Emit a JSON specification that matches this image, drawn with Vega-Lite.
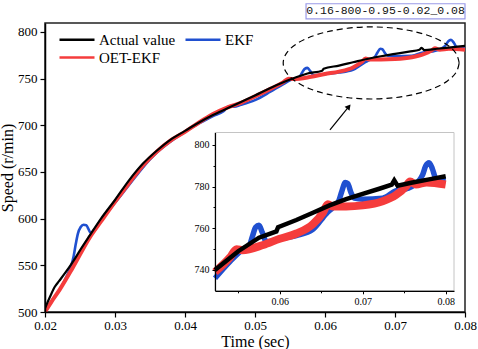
{
  "$schema": "https://vega.github.io/schema/vega-lite/v6.json",
  "width": 420,
  "height": 289,
  "autosize": "none",
  "padding": {"left": 45, "top": 23, "right": 13, "bottom": 37},
  "background": "white",
  "config": {
    "view": {"stroke": "#222222", "strokeWidth": 1.5},
    "font": "Liberation Serif"
  },
  "datasets": {
    "d": [
      {"s": "Actual value", "t": 0.0200, "v": 504},
      {"s": "Actual value", "t": 0.0207, "v": 516},
      {"s": "Actual value", "t": 0.0214, "v": 527},
      {"s": "Actual value", "t": 0.0220, "v": 533},
      {"s": "Actual value", "t": 0.0228, "v": 541},
      {"s": "Actual value", "t": 0.0240, "v": 554},
      {"s": "Actual value", "t": 0.0250, "v": 566},
      {"s": "Actual value", "t": 0.0264, "v": 582},
      {"s": "Actual value", "t": 0.0280, "v": 600},
      {"s": "Actual value", "t": 0.0300, "v": 620},
      {"s": "Actual value", "t": 0.0320, "v": 641},
      {"s": "Actual value", "t": 0.0340, "v": 659},
      {"s": "Actual value", "t": 0.0360, "v": 673},
      {"s": "Actual value", "t": 0.0380, "v": 685},
      {"s": "Actual value", "t": 0.0400, "v": 694},
      {"s": "Actual value", "t": 0.0420, "v": 703},
      {"s": "Actual value", "t": 0.0440, "v": 711},
      {"s": "Actual value", "t": 0.0460, "v": 718},
      {"s": "Actual value", "t": 0.0480, "v": 725},
      {"s": "Actual value", "t": 0.0500, "v": 732},
      {"s": "Actual value", "t": 0.0522, "v": 740},
      {"s": "Actual value", "t": 0.0550, "v": 749},
      {"s": "Actual value", "t": 0.0575, "v": 755.5},
      {"s": "Actual value", "t": 0.0596, "v": 758.5},
      {"s": "Actual value", "t": 0.0598, "v": 760.5},
      {"s": "Actual value", "t": 0.0620, "v": 764},
      {"s": "Actual value", "t": 0.0640, "v": 767.5},
      {"s": "Actual value", "t": 0.0660, "v": 771},
      {"s": "Actual value", "t": 0.0680, "v": 774},
      {"s": "Actual value", "t": 0.0700, "v": 776.5},
      {"s": "Actual value", "t": 0.0720, "v": 779},
      {"s": "Actual value", "t": 0.0735, "v": 781},
      {"s": "Actual value", "t": 0.0738, "v": 783},
      {"s": "Actual value", "t": 0.0742, "v": 780.5},
      {"s": "Actual value", "t": 0.0760, "v": 782},
      {"s": "Actual value", "t": 0.0780, "v": 783.5},
      {"s": "Actual value", "t": 0.0800, "v": 785},

      {"s": "EKF", "t": 0.0200, "v": 500},
      {"s": "EKF", "t": 0.0210, "v": 512},
      {"s": "EKF", "t": 0.0221, "v": 524},
      {"s": "EKF", "t": 0.0232, "v": 540},
      {"s": "EKF", "t": 0.0238, "v": 551},
      {"s": "EKF", "t": 0.0241, "v": 560},
      {"s": "EKF", "t": 0.0244, "v": 573},
      {"s": "EKF", "t": 0.0247, "v": 584},
      {"s": "EKF", "t": 0.0251, "v": 591},
      {"s": "EKF", "t": 0.0255, "v": 593.5},
      {"s": "EKF", "t": 0.0259, "v": 593},
      {"s": "EKF", "t": 0.0262, "v": 589},
      {"s": "EKF", "t": 0.0265, "v": 585},
      {"s": "EKF", "t": 0.0270, "v": 587},
      {"s": "EKF", "t": 0.0280, "v": 598},
      {"s": "EKF", "t": 0.0300, "v": 617},
      {"s": "EKF", "t": 0.0320, "v": 636},
      {"s": "EKF", "t": 0.0340, "v": 655},
      {"s": "EKF", "t": 0.0360, "v": 671},
      {"s": "EKF", "t": 0.0380, "v": 683},
      {"s": "EKF", "t": 0.0400, "v": 693},
      {"s": "EKF", "t": 0.0420, "v": 702},
      {"s": "EKF", "t": 0.0440, "v": 710},
      {"s": "EKF", "t": 0.0455, "v": 715},
      {"s": "EKF", "t": 0.0462, "v": 720},
      {"s": "EKF", "t": 0.0470, "v": 720},
      {"s": "EKF", "t": 0.0480, "v": 722},
      {"s": "EKF", "t": 0.0500, "v": 727},
      {"s": "EKF", "t": 0.0522, "v": 736},
      {"s": "EKF", "t": 0.0540, "v": 744},
      {"s": "EKF", "t": 0.0556, "v": 750},
      {"s": "EKF", "t": 0.0563, "v": 751.5},
      {"s": "EKF", "t": 0.0567, "v": 756},
      {"s": "EKF", "t": 0.0571, "v": 760.5},
      {"s": "EKF", "t": 0.0575, "v": 761.5},
      {"s": "EKF", "t": 0.0579, "v": 758},
      {"s": "EKF", "t": 0.0584, "v": 753.5},
      {"s": "EKF", "t": 0.0600, "v": 755},
      {"s": "EKF", "t": 0.0620, "v": 756.5},
      {"s": "EKF", "t": 0.0640, "v": 759.5},
      {"s": "EKF", "t": 0.0656, "v": 767},
      {"s": "EKF", "t": 0.0664, "v": 770},
      {"s": "EKF", "t": 0.0671, "v": 773},
      {"s": "EKF", "t": 0.0675, "v": 778},
      {"s": "EKF", "t": 0.0679, "v": 782},
      {"s": "EKF", "t": 0.0682, "v": 781.5},
      {"s": "EKF", "t": 0.0686, "v": 777},
      {"s": "EKF", "t": 0.0690, "v": 774.5},
      {"s": "EKF", "t": 0.0700, "v": 774},
      {"s": "EKF", "t": 0.0724, "v": 774.5},
      {"s": "EKF", "t": 0.0740, "v": 778},
      {"s": "EKF", "t": 0.0753, "v": 779},
      {"s": "EKF", "t": 0.0766, "v": 782},
      {"s": "EKF", "t": 0.0772, "v": 785.5},
      {"s": "EKF", "t": 0.0776, "v": 790},
      {"s": "EKF", "t": 0.0780, "v": 791.5},
      {"s": "EKF", "t": 0.0784, "v": 788.5},
      {"s": "EKF", "t": 0.0788, "v": 784},
      {"s": "EKF", "t": 0.0800, "v": 783},

      {"s": "OET-EKF", "t": 0.0200, "v": 500},
      {"s": "OET-EKF", "t": 0.0210, "v": 512},
      {"s": "OET-EKF", "t": 0.0221, "v": 524},
      {"s": "OET-EKF", "t": 0.0240, "v": 548},
      {"s": "OET-EKF", "t": 0.0264, "v": 580},
      {"s": "OET-EKF", "t": 0.0280, "v": 597},
      {"s": "OET-EKF", "t": 0.0300, "v": 618},
      {"s": "OET-EKF", "t": 0.0320, "v": 638},
      {"s": "OET-EKF", "t": 0.0340, "v": 657},
      {"s": "OET-EKF", "t": 0.0360, "v": 672},
      {"s": "OET-EKF", "t": 0.0380, "v": 684},
      {"s": "OET-EKF", "t": 0.0400, "v": 693},
      {"s": "OET-EKF", "t": 0.0420, "v": 703},
      {"s": "OET-EKF", "t": 0.0440, "v": 712},
      {"s": "OET-EKF", "t": 0.0460, "v": 719},
      {"s": "OET-EKF", "t": 0.0480, "v": 724},
      {"s": "OET-EKF", "t": 0.0500, "v": 731},
      {"s": "OET-EKF", "t": 0.0522, "v": 739},
      {"s": "OET-EKF", "t": 0.0540, "v": 746},
      {"s": "OET-EKF", "t": 0.0548, "v": 750},
      {"s": "OET-EKF", "t": 0.0555, "v": 749.5},
      {"s": "OET-EKF", "t": 0.0580, "v": 752},
      {"s": "OET-EKF", "t": 0.0600, "v": 755},
      {"s": "OET-EKF", "t": 0.0620, "v": 757.5},
      {"s": "OET-EKF", "t": 0.0640, "v": 762},
      {"s": "OET-EKF", "t": 0.0652, "v": 767.5},
      {"s": "OET-EKF", "t": 0.0658, "v": 771.5},
      {"s": "OET-EKF", "t": 0.0664, "v": 770.5},
      {"s": "OET-EKF", "t": 0.0680, "v": 770.5},
      {"s": "OET-EKF", "t": 0.0700, "v": 771},
      {"s": "OET-EKF", "t": 0.0724, "v": 773},
      {"s": "OET-EKF", "t": 0.0740, "v": 776},
      {"s": "OET-EKF", "t": 0.0752, "v": 780},
      {"s": "OET-EKF", "t": 0.0757, "v": 782.5},
      {"s": "OET-EKF", "t": 0.0764, "v": 781},
      {"s": "OET-EKF", "t": 0.0777, "v": 782},
      {"s": "OET-EKF", "t": 0.0800, "v": 781}
    ],
    "ellipse": [
      {"i": 0, "t": 0.07917, "v": 766.8},
      {"i": 1, "t": 0.07874, "v": 776.8},
      {"i": 2, "t": 0.07749, "v": 786.1},
      {"i": 3, "t": 0.07549, "v": 794.1},
      {"i": 4, "t": 0.07289, "v": 800.2},
      {"i": 5, "t": 0.06985, "v": 804.1},
      {"i": 6, "t": 0.0666, "v": 805.4},
      {"i": 7, "t": 0.06335, "v": 804.1},
      {"i": 8, "t": 0.06032, "v": 800.2},
      {"i": 9, "t": 0.05771, "v": 794.1},
      {"i": 10, "t": 0.05571, "v": 786.1},
      {"i": 11, "t": 0.05446, "v": 776.8},
      {"i": 12, "t": 0.05403, "v": 766.8},
      {"i": 13, "t": 0.05446, "v": 756.8},
      {"i": 14, "t": 0.05571, "v": 747.5},
      {"i": 15, "t": 0.05771, "v": 739.5},
      {"i": 16, "t": 0.06032, "v": 733.4},
      {"i": 17, "t": 0.06335, "v": 729.5},
      {"i": 18, "t": 0.0666, "v": 728.2},
      {"i": 19, "t": 0.06985, "v": 729.5},
      {"i": 20, "t": 0.07289, "v": 733.4},
      {"i": 21, "t": 0.07549, "v": 739.5},
      {"i": 22, "t": 0.07749, "v": 747.5},
      {"i": 23, "t": 0.07874, "v": 756.8},
      {"i": 24, "t": 0.07917, "v": 766.8}
    ],
    "arrow": [{"t": 0.06071, "v": 695, "t2": 0.0634, "v2": 720}],
    "arrowhead": [{"t": 0.0634, "v": 720}],
    "box": [{"t": 0.05729, "v": 814, "t2": 0.0800, "v2": 830.2, "label": "0.16-800-0.95-0.02_0.08", "tc": 0.06865, "vc": 822}],
    "inset": [{"t": 0.0522, "t2": 0.081, "v": 730, "v2": 806}]
  },
  "layer": [
    {
      "layer": [
        {
          "data": {"name": "d"},
          "transform": [{"filter": "datum.s == 'EKF'"}],
          "mark": {"type": "line", "strokeWidth": 2.6, "clip": true, "interpolate": "monotone", "strokeJoin": "round"},
          "encoding": {
            "x": {"field": "t", "type": "quantitative", "scale": {"domain": [0.02, 0.08], "nice": false, "zero": false},
              "axis": {"title": "Time (sec)", "values": [0.02, 0.025, 0.03, 0.035, 0.04, 0.045, 0.05, 0.055, 0.06, 0.065, 0.07, 0.075, 0.08],
                "labelExpr": "round(datum.value*1000) % 10 == 0 ? format(datum.value, '.2f') : ''",
                "tickSize": {"condition": {"test": "round(datum.value*1000) % 10 != 0", "value": 3}, "value": 5},
                "orient": "bottom", "grid": false, "domainColor": "black", "domainWidth": 1.5, "tickColor": "black", "tickWidth": 1.2,
                "labelFont": "Liberation Serif", "labelFontSize": 13, "labelColor": "black", "labelPadding": 2, "labelFlush": false, "labelOverlap": false,
                "titleFont": "Liberation Serif", "titleFontSize": 16, "titleFontWeight": "normal", "titleColor": "black", "titlePadding": 1, "zindex": 1}},
            "y": {"field": "v", "type": "quantitative", "scale": {"domain": [500, 809.6], "nice": false, "zero": false},
              "axis": {"title": "Speed (r/min)", "values": [500, 525, 550, 575, 600, 625, 650, 675, 700, 725, 750, 775, 800],
                "labelExpr": "datum.value % 50 == 0 ? datum.value : ''",
                "tickSize": {"condition": {"test": "datum.value % 50 != 0", "value": 3}, "value": 5},
                "orient": "left", "grid": false, "domainColor": "black", "domainWidth": 1.5, "tickColor": "black", "tickWidth": 1.2,
                "labelFont": "Liberation Serif", "labelFontSize": 13, "labelColor": "black", "labelPadding": 3, "labelOverlap": false,
                "titleFont": "Liberation Serif", "titleFontSize": 16, "titleFontWeight": "normal", "titleColor": "black", "titlePadding": 2, "zindex": 1}},
            "color": {"field": "s", "type": "nominal",
              "scale": {"domain": ["Actual value", "EKF", "OET-EKF"], "range": ["#000000", "#2050d0", "#f53c3c"]},
              "legend": {"title": null, "orient": "none", "legendX": 13, "legendY": 8, "direction": "horizontal", "columns": 2,
                "symbolType": "M-2.5,0H2.5", "symbolSize": 196, "symbolOffset": 10.5,
                "symbolStrokeWidth": 2.5, "labelFont": "Liberation Serif", "labelFontSize": 15, "labelColor": "black", "labelOffset": 13.5,
                "columnPadding": 4, "rowPadding": 1, "padding": 0, "labelLimit": 300}}
          }
        },
        {
          "data": {"name": "d"},
          "transform": [{"filter": "datum.s == 'OET-EKF'"}],
          "mark": {"type": "line", "strokeWidth": 4, "clip": true, "interpolate": "monotone", "strokeJoin": "round"},
          "encoding": {
            "x": {"field": "t", "type": "quantitative", "scale": {"domain": [0.02, 0.08], "nice": false, "zero": false}},
            "y": {"field": "v", "type": "quantitative", "scale": {"domain": [500, 809.6], "nice": false, "zero": false}},
            "color": {"field": "s", "type": "nominal"}
          }
        },
        {
          "data": {"name": "d"},
          "transform": [{"filter": "datum.s == 'Actual value'"}],
          "mark": {"type": "line", "strokeWidth": 2.2, "clip": true, "interpolate": "monotone"},
          "encoding": {
            "x": {"field": "t", "type": "quantitative", "scale": {"domain": [0.02, 0.08], "nice": false, "zero": false}},
            "y": {"field": "v", "type": "quantitative", "scale": {"domain": [500, 809.6], "nice": false, "zero": false}},
            "color": {"field": "s", "type": "nominal"}
          }
        },
        {
          "data": {"name": "ellipse"},
          "mark": {"type": "line", "color": "black", "strokeWidth": 1.2, "strokeDash": [6, 4], "interpolate": "cardinal"},
          "encoding": {
            "x": {"field": "t", "type": "quantitative", "scale": {"domain": [0.02, 0.08], "nice": false, "zero": false}},
            "y": {"field": "v", "type": "quantitative", "scale": {"domain": [500, 809.6], "nice": false, "zero": false}},
            "order": {"field": "i", "type": "quantitative"}
          }
        },
        {
          "data": {"name": "arrow"},
          "mark": {"type": "rule", "color": "black", "strokeWidth": 1.2},
          "encoding": {
            "x": {"field": "t", "type": "quantitative", "scale": {"domain": [0.02, 0.08], "nice": false, "zero": false}},
            "y": {"field": "v", "type": "quantitative", "scale": {"domain": [500, 809.6], "nice": false, "zero": false}},
            "x2": {"field": "t2"},
            "y2": {"field": "v2"}
          }
        },
        {
          "data": {"name": "arrowhead"},
          "mark": {"type": "point", "shape": "triangle-up", "filled": true, "color": "black", "size": 40, "angle": 39, "opacity": 1},
          "encoding": {
            "x": {"field": "t", "type": "quantitative", "scale": {"domain": [0.02, 0.08], "nice": false, "zero": false}},
            "y": {"field": "v", "type": "quantitative", "scale": {"domain": [500, 809.6], "nice": false, "zero": false}}
          }
        },
        {
          "data": {"name": "box"},
          "mark": {"type": "rect", "fill": "white", "stroke": "#9a9ae8", "strokeWidth": 1.2, "clip": false},
          "encoding": {
            "x": {"field": "t", "type": "quantitative", "scale": {"domain": [0.02, 0.08], "nice": false, "zero": false}},
            "y": {"field": "v", "type": "quantitative", "scale": {"domain": [500, 809.6], "nice": false, "zero": false}},
            "x2": {"field": "t2"},
            "y2": {"field": "v2"}
          }
        },
        {
          "data": {"name": "box"},
          "mark": {"type": "text", "font": "Liberation Mono", "fontSize": 11.5, "color": "#111111", "align": "center", "baseline": "middle", "clip": false},
          "encoding": {
            "x": {"field": "tc", "type": "quantitative", "scale": {"domain": [0.02, 0.08], "nice": false, "zero": false}},
            "y": {"field": "vc", "type": "quantitative", "scale": {"domain": [500, 809.6], "nice": false, "zero": false}},
            "text": {"field": "label"}
          }
        }
      ]
    },
    {
      "layer": [
        {
          "data": {"name": "inset"},
          "mark": {"type": "rect", "fill": "white", "stroke": "#c4c4c4", "strokeWidth": 1},
          "encoding": {
            "x": {"field": "t", "type": "quantitative", "scale": {"domain": [0.0522, 0.081], "range": [170, 409], "nice": false, "zero": false},
              "axis": {"title": null, "values": [0.055, 0.06, 0.065, 0.07, 0.075, 0.08], "orient": "bottom", "offset": -21.2,
                "labelExpr": "round(datum.value*1000) % 10 == 0 ? format(datum.value, '.2f') : ''",
                "tickSize": {"condition": {"test": "round(datum.value*1000) % 10 != 0", "value": 2}, "value": 3},
                "grid": false, "domainColor": "black", "domainWidth": 1.2, "tickColor": "black", "tickWidth": 1,
                "labelFont": "Liberation Serif", "labelFontSize": 10, "labelColor": "black", "labelPadding": 3, "labelFlush": false, "labelOverlap": false, "zindex": 2}},
            "y": {"field": "v", "type": "quantitative", "scale": {"domain": [730, 806], "range": [267.8, 109.5], "nice": false, "zero": false},
              "axis": {"title": null, "values": [740, 750, 760, 770, 780, 790, 800], "orient": "left", "offset": -170,
                "labelExpr": "datum.value % 20 == 0 ? datum.value : ''",
                "tickSize": {"condition": {"test": "datum.value % 20 != 0", "value": 2}, "value": 3},
                "grid": false, "domainColor": "black", "domainWidth": 1.2, "tickColor": "black", "tickWidth": 1,
                "labelFont": "Liberation Serif", "labelFontSize": 10, "labelColor": "black", "labelPadding": 3, "labelOverlap": false, "zindex": 2}},
            "x2": {"field": "t2"},
            "y2": {"field": "v2"}
          }
        },
        {
          "data": {"name": "d"},
          "transform": [{"filter": "datum.s == 'EKF' && datum.t >= 0.0522"}],
          "mark": {"type": "line", "strokeWidth": 5.5, "color": "#2050d0", "interpolate": "monotone", "strokeJoin": "round"},
          "encoding": {
            "x": {"field": "t", "type": "quantitative", "scale": {"domain": [0.0522, 0.081], "range": [170, 409], "nice": false, "zero": false}},
            "y": {"field": "v", "type": "quantitative", "scale": {"domain": [730, 806], "range": [267.8, 109.5], "nice": false, "zero": false}}
          }
        },
        {
          "data": {"name": "d"},
          "transform": [{"filter": "datum.s == 'OET-EKF' && datum.t >= 0.0522"}],
          "mark": {"type": "line", "strokeWidth": 8, "color": "#f53c3c", "interpolate": "monotone", "strokeJoin": "round"},
          "encoding": {
            "x": {"field": "t", "type": "quantitative", "scale": {"domain": [0.0522, 0.081], "range": [170, 409], "nice": false, "zero": false}},
            "y": {"field": "v", "type": "quantitative", "scale": {"domain": [730, 806], "range": [267.8, 109.5], "nice": false, "zero": false}}
          }
        },
        {
          "data": {"name": "d"},
          "transform": [{"filter": "datum.s == 'Actual value' && datum.t >= 0.0522"}],
          "mark": {"type": "line", "strokeWidth": 4.5, "color": "#000000"},
          "encoding": {
            "x": {"field": "t", "type": "quantitative", "scale": {"domain": [0.0522, 0.081], "range": [170, 409], "nice": false, "zero": false}},
            "y": {"field": "v", "type": "quantitative", "scale": {"domain": [730, 806], "range": [267.8, 109.5], "nice": false, "zero": false}}
          }
        }
      ]
    }
  ],
  "resolve": {"scale": {"x": "independent", "y": "independent"}}
}
